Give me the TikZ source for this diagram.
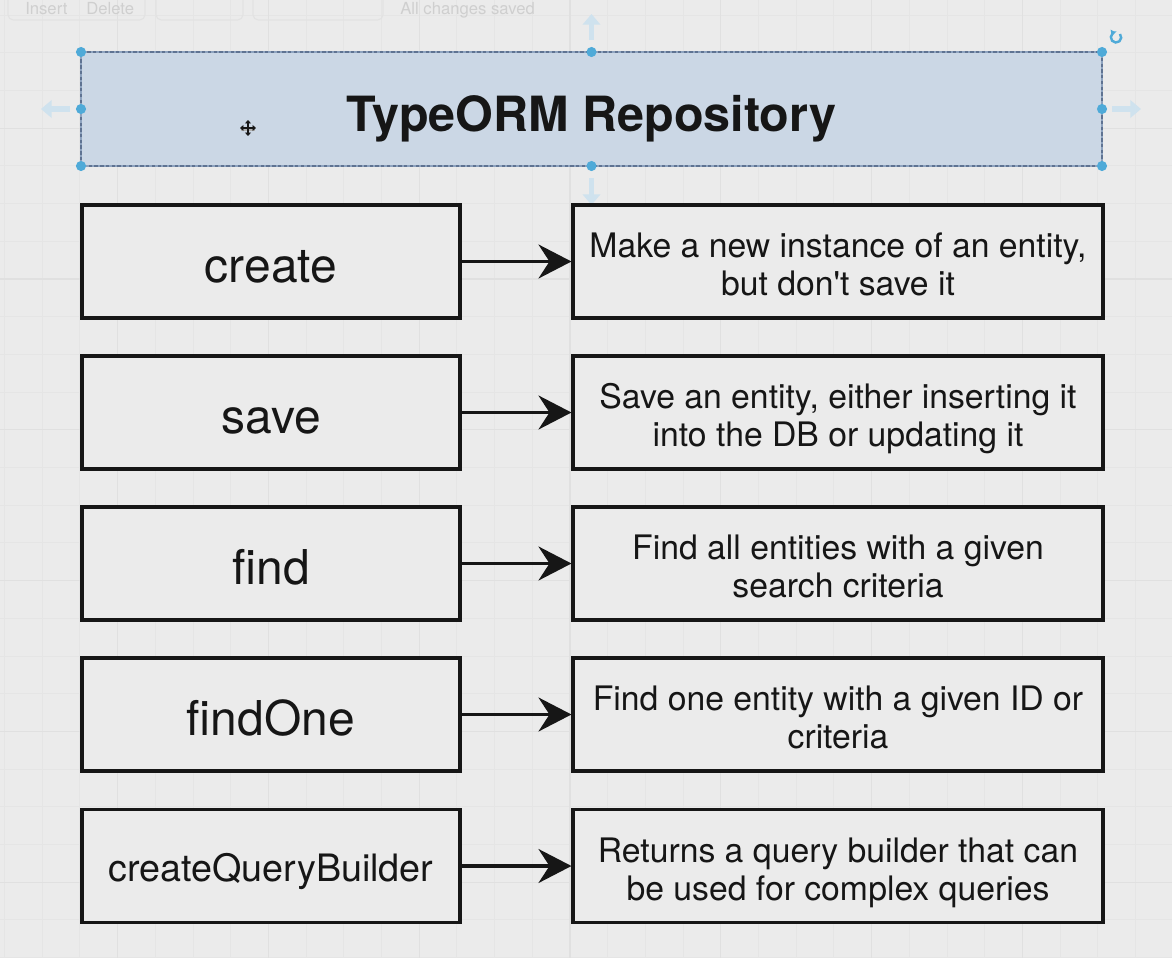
\documentclass[tikz,border=0pt]{standalone}
\usepackage{fontspec}
\setmainfont{TeX Gyre Heros}
\usetikzlibrary{arrows.meta,calc}
\definecolor{bg}{HTML}{EBEBEB}
\definecolor{gridminor}{HTML}{E5E5E5}
\definecolor{gridmajor}{HTML}{E0E0E0}
\definecolor{titlefill}{HTML}{CBD7E5}
\definecolor{titleborder}{HTML}{8EA3BF}
\definecolor{titledash}{HTML}{5F7392}
\definecolor{handle}{HTML}{4FAAD8}
\definecolor{ghost}{HTML}{CFE2EE}
\definecolor{ink}{HTML}{161616}
\definecolor{faint}{HTML}{CFCFCF}
\definecolor{faintbox}{HTML}{E2E2E2}
\begin{document}
\begin{tikzpicture}[x=0.75pt,y=-0.75pt,
  minorline/.style={draw=gridminor,line width=0.75pt},
  majorline/.style={draw=gridmajor,line width=0.9pt},
  box/.style={draw=ink,line width=2.3pt,fill=bg,inner sep=0pt},
  leftbox/.style={box,minimum width=283.5pt,minimum height=84.75pt,
    font=\fontsize{36}{43}\selectfont,text height=30.75pt,text depth=0pt,text=ink},
  smallleft/.style={leftbox,font=\fontsize{28.3}{34}\selectfont,text height=23.8pt},
  rightbox/.style={box,minimum width=397.5pt,minimum height=84.75pt},
  desc/.style={align=center,font=\fontsize{25.3}{28.3}\selectfont,text=ink,inner sep=0pt},
  link/.style={draw=ink,line width=2.3pt,-{Stealth[length=24.75pt,width=25.5pt,inset=8.25pt]}},
  titlebox/.style={fill=titlefill,draw=titleborder,line width=2.2pt,outer sep=0pt,inner sep=0pt,
    minimum width=765.75pt,minimum height=85.5pt,
    font=\fontsize{36.4}{44}\selectfont\bfseries,text height=33pt,text depth=0pt,text=ink},
  ghostarrow/.style={draw=ghost,line width=4pt,-{Triangle[length=8pt,width=13pt]}},
  ghosttext/.style={text=faint,font=\fontsize{12.5}{15}\selectfont,inner sep=0pt},
  toolbox/.style={draw=faintbox,line width=0.8pt,rounded corners=4pt},
]
\fill[bg] (0,0) rectangle (1172,958);
\useasboundingbox (0,0) rectangle (1172,958);
\begin{scope}
\clip (0,0) rectangle (1172,958);
\foreach \i in {0,...,31} \draw[minorline] ({4.5+\i*37.7},0) -- ({4.5+\i*37.7},958);
\foreach \i in {0,...,25} \draw[minorline] (0,{15.1+\i*37.7}) -- (1172,{15.1+\i*37.7});
\foreach \i in {-1,...,7} \draw[majorline] ({117.6+\i*150.8},0) -- ({117.6+\i*150.8},958);
\foreach \i in {-1,...,6} \draw[majorline] (0,{128.2+\i*150.8}) -- (1172,{128.2+\i*150.8});
% faint toolbar
\draw[toolbox] (8,-12) rectangle (145,20);
\draw[toolbox] (156,-12) rectangle (243,20);
\draw[toolbox] (253,-12) rectangle (383,20);
\node[ghosttext,anchor=base west] (tbinsert) at (25,14) {Insert};
\node[ghosttext,anchor=base west] (tbdelete) at (86,14) {Delete};
\node[ghosttext,anchor=base west] (tbsaved) at (400,14) {All changes saved};
\end{scope}

% title
\node[titlebox] (title) at (591.5,109) {TypeORM Repository};
\draw[titledash,line width=1pt,dash pattern=on 2.5pt off 1.8pt] (title.south west) rectangle (title.north east);
\foreach \a in {north west,north,north east,east,south east,south,south west,west}
  \fill[handle] (title.\a) circle (3.8pt);
\coordinate (gtop) at ($(title.north)+(0,-12)$);
\coordinate (gtopend) at ($(title.north)+(0,-38)$);
\coordinate (gbot) at ($(title.south)+(0,12)$);
\coordinate (gbotend) at ($(title.south)+(0,39)$);
\coordinate (gleft) at ($(title.west)+(-11,0)$);
\coordinate (gleftend) at ($(title.west)+(-40,0)$);
\coordinate (gright) at ($(title.east)+(10,0)$);
\coordinate (grightend) at ($(title.east)+(39,0)$);
\draw[ghostarrow] (gtop) -- (gtopend);
\draw[ghostarrow] (gbot) -- (gbotend);
\draw[ghostarrow] (gleft) -- (gleftend);
\draw[ghostarrow] (gright) -- (grightend);
% rotate handle
\coordinate (rot) at (1116,37);
\draw[handle,line width=1.8pt,-{Triangle[length=3pt,width=5pt]}] ($(rot)+(4,-3)$) arc[start angle=40,end angle=-260,radius=3.9pt];
% move cursor
\coordinate (mv) at (248,128);
\draw[gray!60,line width=1.8pt] ($(mv)+(-7,1.5)$) -- ($(mv)+(7,1.5)$);
\draw[ink,line width=1.4pt,{Triangle[length=2.6pt,width=4.5pt]}-{Triangle[length=2.6pt,width=4.5pt]}] ($(mv)+(-8,0)$) -- ($(mv)+(8,0)$);
\draw[ink,line width=1.4pt,{Triangle[length=2.6pt,width=4.5pt]}-{Triangle[length=2.6pt,width=4.5pt]}] ($(mv)+(0,-8)$) -- ($(mv)+(0,8)$);

% rows
\node[leftbox] (create) at (271,261.5) {create};
\node[rightbox] (createD) at (838,261.5) {};
\node[desc] (createT) at ($(createD.center)+(0,7.8)$) {\strut Make a new instance of an entity,\\\strut but don\textquotesingle t save it};
\draw[link] (create.east) -- (createD.west);

\node[leftbox] (save) at (271,412.5) {save};
\node[rightbox] (saveD) at (838,412.5) {};
\node[desc] (saveT) at ($(saveD.center)+(0,7.8)$) {\strut Save an entity, either inserting it\\\strut into the DB or updating it};
\draw[link] (save.east) -- (saveD.west);

\node[leftbox] (find) at (271,563.5) {find};
\node[rightbox] (findD) at (838,563.5) {};
\node[desc] (findT) at ($(findD.center)+(0,7.8)$) {\strut Find all entities with a given\\\strut search criteria};
\draw[link] (find.east) -- (findD.west);

\node[leftbox] (findOne) at (271,714.5) {findOne};
\node[rightbox] (findOneD) at (838,714.5) {};
\node[desc] (findOneT) at ($(findOneD.center)+(0,7.8)$) {\strut Find one entity with a given ID or\\\strut criteria};
\draw[link] (findOne.east) -- (findOneD.west);

\node[smallleft] (cqb) at (271,866) {createQueryBuilder};
\node[rightbox] (cqbD) at (838,866) {};
\node[desc] (cqbT) at ($(cqbD.center)+(0,7.8)$) {\strut Returns a query builder that can\\\strut be used for complex queries};
\draw[link] (cqb.east) -- (cqbD.west);
\end{tikzpicture}
\end{document}
